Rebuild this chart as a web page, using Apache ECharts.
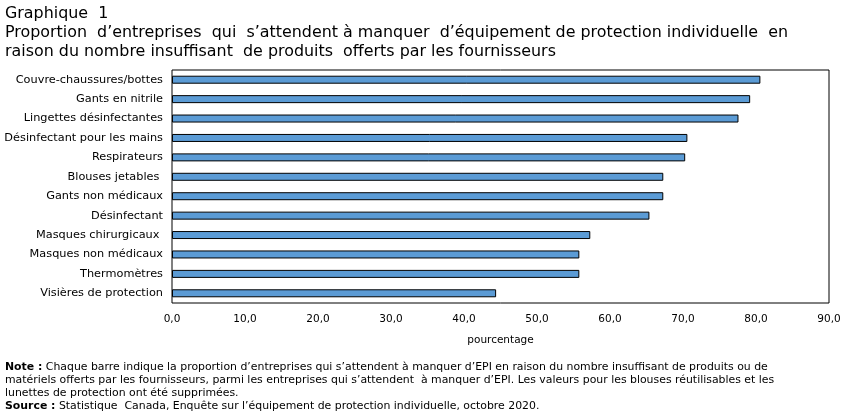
<!DOCTYPE html>
<html><head><meta charset="utf-8">
<script src="https://cdn.jsdelivr.net/npm/echarts@6/dist/echarts.min.js"></script>
<style>html,body{margin:0;padding:0;background:#fff}#c{width:851px;height:417px}</style>
</head><body><div id="c"></div>
<script>
const categories = ["Couvre-chaussures/bottes","Gants en nitrile","Lingettes désinfectantes","Désinfectant pour les mains","Respirateurs","Blouses jetables ","Gants non médicaux","Désinfectant","Masques chirurgicaux ","Masques non médicaux","Thermomètres","Visières de protection"];
const values = [80.6, 79.2, 77.6, 70.6, 70.3, 67.3, 67.3, 65.4, 57.3, 55.8, 55.8, 44.4];
const xTicks = {min: 0, max: 90, interval: 10};
const titleLines = ["Graphique  1","Proportion  d’entreprises  qui  s’attendent à manquer  d’équipement de protection individuelle  en","raison du nombre insuffisant  de produits  offerts par les fournisseurs"];
const noteText = "Chaque barre indique la proportion d’entreprises qui s’attendent à manquer d’EPI en raison du nombre insuffisant de produits ou de";
const noteText2 = "matériels offerts par les fournisseurs, parmi les entreprises qui s’attendent  à manquer d’EPI. Les valeurs pour les blouses réutilisables et les";
const noteText3 = "lunettes de protection ont été supprimées.";
const sourceText = "Statistique  Canada, Enquête sur l’équipement de protection individuelle, octobre 2020.";

const F = "DejaVu Sans, Verdana, sans-serif";
const chart = echarts.init(document.getElementById('c'), null, {renderer:'canvas'});
chart.setOption({
  animation:false,
  backgroundColor:'#fff',
  title:[
    {text: titleLines.join('\n'), left:5, top:5, padding:0, textStyle:{fontFamily:F, fontSize:15.9, fontWeight:'normal', color:'#000', lineHeight:18.7}},
    {text: '{b|Note :} ' + noteText + '\n' + noteText2 + '\n' + noteText3 + '\n{b|Source :} ' + sourceText,
     left:5, top:361, padding:0,
     textStyle:{fontFamily:F, fontSize:10.9, fontWeight:'normal', color:'#000', lineHeight:13,
       rich:{b:{fontFamily:F, fontSize:10.9, fontWeight:'bold', color:'#000', lineHeight:13}}}}
  ],
  grid:{left:172, right:22, top:70, bottom:114, show:true, borderColor:'#000', borderWidth:1, backgroundColor:'transparent', containLabel:false},
  xAxis:{type:'value', min:xTicks.min, max:xTicks.max, interval:xTicks.interval,
    name:'pourcentage', nameLocation:'middle', nameGap:32,
    nameTextStyle:{fontFamily:F, fontSize:10.5, color:'#000'},
    axisLine:{show:false}, axisTick:{show:false}, splitLine:{show:false},
    axisLabel:{fontFamily:F, fontSize:10.5, color:'#000', margin:11, formatter:v=>v.toFixed(1).replace('.',',')}},
  yAxis:{type:'category', data:categories, inverse:true,
    axisLine:{show:false}, axisTick:{show:false}, splitLine:{show:false},
    axisLabel:{fontFamily:F, fontSize:11.3, color:'#000', margin:9}},
  series:[{type:'bar', data:values, barWidth:8,
    itemStyle:{color:'#5B9BD5', borderColor:'#000', borderWidth:1}}]
});
</script></body></html>
